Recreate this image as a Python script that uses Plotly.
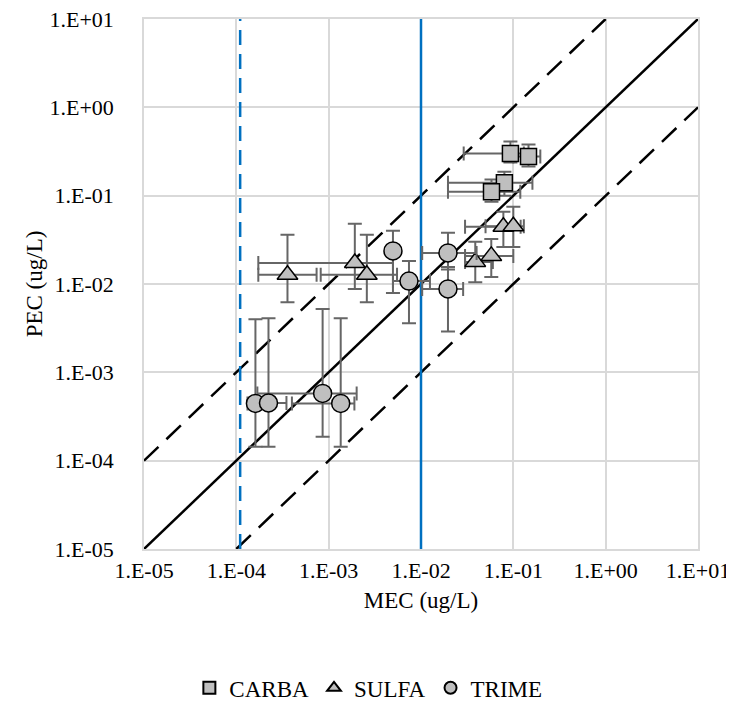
import plotly.graph_objects as go

tick_vals = [1e-5, 1e-4, 1e-3, 1e-2, 1e-1, 1e0, 1e1]
tick_text = ["1.E-05", "1.E-04", "1.E-03", "1.E-02", "1.E-01", "1.E+00", "1.E+01"]

# CARBA (squares)
carba_mec = [0.093, 0.146, 0.080, 0.058]
carba_pec = [0.30, 0.277, 0.14, 0.111]
carba_mec_lo = [0.029, 0.10, 0.0196, 0.0196]
carba_mec_hi = [0.13, 0.196, 0.161, 0.119]
carba_pec_lo = [0.237, 0.214, 0.10, 0.0855]
carba_pec_hi = [0.41, 0.38, 0.187, 0.152]

# SULFA (triangles)
sulfa_mec = [0.078, 0.10, 0.0387, 0.0577, 3.58e-4, 1.92e-3, 2.59e-3]
sulfa_pec = [0.0444, 0.045, 0.0178, 0.0208, 0.0127, 0.0173, 0.0127]
sulfa_mec_lo = [0.030, 0.05, 0.030, 0.030, 1.73e-4, 1.73e-4, 8.2e-4]
sulfa_mec_hi = [0.12, 0.13, 0.06, 0.10, 7.4e-4, 4.97e-3, 5.5e-3]
sulfa_pec_lo = [0.0263, 0.0263, 0.0105, 0.012, 6.2e-3, 8.8e-3, 6.2e-3]
sulfa_pec_hi = [0.0658, 0.075, 0.030, 0.0324, 0.036, 0.048, 0.036]

# TRIME (circles)
trime_mec = [4.97e-3, 7.41e-3, 0.0196, 0.0196, 1.61e-4, 2.23e-4, 8.6e-4, 1.35e-3]
trime_pec = [0.0237, 0.0108, 0.0225, 0.0088, 4.45e-4, 4.5e-4, 5.77e-4, 4.45e-4]
trime_mec_lo = [4.5e-3, 4.97e-3, 0.0103, 0.0103, 1.32e-4, 1.45e-4, 1.69e-4, 4.0e-4]
trime_mec_hi = [5.5e-3, 0.0125, 0.04, 0.0286, 2.0e-4, 3.49e-4, 2.01e-3, 1.9e-3]
trime_pec_lo = [0.0079, 0.0036, 0.0146, 0.0029, 1.44e-4, 1.44e-4, 1.87e-4, 1.44e-4]
trime_pec_hi = [0.040, 0.0182, 0.038, 0.0156, 4.0e-3, 4.1e-3, 5.2e-3, 4.1e-3]

# reference lines
line_1to1_x = [1e-5, 1e1]
line_upper_x = [1e-5, 1e0]
line_lower_x = [1e-4, 1e1]
factor = 10.0
lod_x = 1.1e-4
loq_x = 1e-2
vline_y = [1e-5, 1e1]

FONT = "Liberation Serif"
fig = go.Figure()

def add_series(name, xs, ys, xlo, xhi, ylo, yhi, symbol, size):
    fig.add_trace(go.Scatter(
        x=xs, y=ys, mode="markers", name=name,
        marker=dict(symbol=symbol, size=size, color="#bfbfbf",
                    line=dict(color="black", width=1.5)),
        error_x=dict(type="data", symmetric=False,
                     array=[h - v for h, v in zip(xhi, xs)],
                     arrayminus=[v - l for l, v in zip(xlo, xs)],
                     color="#666666", thickness=2, width=7),
        error_y=dict(type="data", symmetric=False,
                     array=[h - v for h, v in zip(yhi, ys)],
                     arrayminus=[v - l for l, v in zip(ylo, ys)],
                     color="#666666", thickness=2, width=7),
    ))

fig.add_trace(go.Scatter(x=line_1to1_x, y=line_1to1_x, mode="lines",
                         line=dict(color="black", width=2.5), showlegend=False, hoverinfo="skip"))
fig.add_trace(go.Scatter(x=line_upper_x, y=[v * factor for v in line_upper_x], mode="lines",
                         line=dict(color="black", width=2.5, dash="20px,11px"), showlegend=False, hoverinfo="skip"))
fig.add_trace(go.Scatter(x=line_lower_x, y=[v / factor for v in line_lower_x], mode="lines",
                         line=dict(color="black", width=2.5, dash="20px,11px"), showlegend=False, hoverinfo="skip"))
fig.add_trace(go.Scatter(x=[lod_x, lod_x], y=vline_y, mode="lines",
                         line=dict(color="#0070c0", width=2.5, dash="15px,9px"), showlegend=False, hoverinfo="skip"))
fig.add_trace(go.Scatter(x=[loq_x, loq_x], y=vline_y, mode="lines",
                         line=dict(color="#0070c0", width=2.5), showlegend=False, hoverinfo="skip"))

add_series("CARBA", carba_mec, carba_pec, carba_mec_lo, carba_mec_hi, carba_pec_lo, carba_pec_hi, "square", 16)
add_series("SULFA", sulfa_mec, sulfa_pec, sulfa_mec_lo, sulfa_mec_hi, sulfa_pec_lo, sulfa_pec_hi, "triangle-up", 18)
add_series("TRIME", trime_mec, trime_pec, trime_mec_lo, trime_mec_hi, trime_pec_lo, trime_pec_hi, "circle", 18)

axis_common = dict(type="log", range=[-5, 1], tickvals=tick_vals, ticktext=tick_text,
                   showgrid=True, gridcolor="#d9d9d9", gridwidth=1.5,
                   showline=True, linecolor="#d9d9d9", linewidth=1.5, mirror=True,
                   zeroline=False, ticks="", automargin=False, ticklabeloverflow="allow",
                   tickfont=dict(family=FONT, size=22, color="black"))

fig.update_xaxes(**axis_common, ticklabelstandoff=1,
                 title=dict(text="MEC (ug/L)", font=dict(family=FONT, size=23, color="black"), standoff=10))
fig.update_yaxes(**axis_common, ticklabelstandoff=24,
                 title=dict(text="PEC (ug/L)", font=dict(family=FONT, size=23, color="black"), standoff=0))

fig.update_layout(
    width=718, height=697,
    margin=dict(l=136, r=28, t=11, b=156, autoexpand=False),
    paper_bgcolor="white", plot_bgcolor="white",
    font=dict(family=FONT, color="black"),
    legend=dict(orientation="h", x=0.405, xanchor="center", y=-0.262, yanchor="middle",
                font=dict(family=FONT, size=23, color="black"), itemsizing="constant",
                itemwidth=30, tracegroupgap=0),
)

fig.write_html("out.html")
